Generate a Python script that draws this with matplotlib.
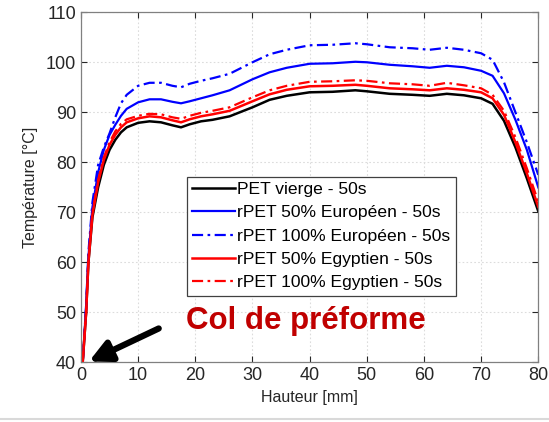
import numpy as np
import matplotlib
matplotlib.use('Agg')
import matplotlib.pyplot as plt
from matplotlib.lines import Line2D

plt.rcParams['font.family'] = ['Liberation Sans', 'DejaVu Sans']

# hauteur le long de la preforme [mm]
hauteur = [0.3, 0.9, 1.3, 2, 3, 4, 5, 6, 7, 8, 10, 12, 14, 16, 17.5, 19, 21, 23, 26,
           30, 33, 36, 40, 44, 48, 50, 54, 58, 61, 64, 67, 70, 72, 74, 76, 78, 80]

# temperatures [degC]
pet_vierge = [40, 50, 60, 69, 75, 79.5, 82.5, 84.5, 86, 87, 87.9, 88.2, 88, 87.4, 87, 87.6, 88.2, 88.5, 89.2,
              91, 92.5, 93.3, 94, 94.1, 94.4, 94.2, 93.7, 93.5, 93.3, 93.7, 93.4, 92.8, 91.7, 88.3, 83, 76.8, 70.2]
rpet50_eu = [40, 51, 61, 71, 78, 82.5, 85.5, 87.5, 89.3, 90.7, 92, 92.6, 92.6, 92.1, 91.8, 92.2, 92.8, 93.4, 94.4,
             96.6, 98, 98.9, 99.7, 99.8, 100.1, 100, 99.5, 99.2, 98.9, 99.3, 99, 98.3, 97.3, 93.8, 88.5, 82.5, 75]
rpet100_eu = [40, 51.5, 62, 72, 79.5, 83, 85.8, 89, 91.8, 93.5, 95.3, 95.9, 95.9, 95.3, 95, 95.7, 96.3, 96.8, 97.7,
              100, 101.6, 102.5, 103.4, 103.5, 103.8, 103.6, 103, 102.8, 102.5, 102.9, 102.5, 101.8, 100.5, 96, 90, 84, 77.5]
rpet50_eg = [40, 50, 60, 69.5, 76, 80.5, 83.5, 85.5, 87, 88, 88.8, 89.2, 89, 88.4, 88, 88.6, 89.2, 89.6, 90.3,
             92.2, 93.6, 94.5, 95.2, 95.3, 95.5, 95.3, 94.8, 94.6, 94.4, 94.8, 94.5, 94, 92.8, 89.5, 84, 77.8, 71.1]
rpet100_eg = [40, 50, 60.5, 70, 76.5, 81, 84, 86.2, 87.7, 88.6, 89.3, 89.7, 89.6, 89, 88.7, 89.3, 89.9, 90.3, 91,
              93, 94.4, 95.3, 96.1, 96.2, 96.4, 96.3, 95.8, 95.6, 95.3, 95.9, 95.4, 94.8, 93.5, 90.3, 85, 78.8, 72.1]

labels = ['PET vierge - 50s', 'rPET 50% Européen - 50s', 'rPET 100% Européen - 50s',
          'rPET 50% Egyptien - 50s', 'rPET 100% Egyptien - 50s']

dashdot = (0, (5, 2, 1.2, 2))

fig = plt.figure(figsize=(5.49, 4.22), dpi=100)
ax = fig.add_axes([0.1475, 0.141, 0.833, 0.830])

ax.plot(hauteur, pet_vierge, color='black', lw=1.8, label=labels[0])
ax.plot(hauteur, rpet50_eu, color='#0000ff', lw=1.6, label=labels[1])
ax.plot(hauteur, rpet100_eu, color='#0000ff', lw=1.6, ls=dashdot, label=labels[2])
ax.plot(hauteur, rpet50_eg, color='#ff0000', lw=1.8, label=labels[3])
ax.plot(hauteur, rpet100_eg, color='#ff0000', lw=1.6, ls=dashdot, label=labels[4])

ax.set_xlim(0, 80)
ax.set_ylim(40, 110)
ax.set_xticks(np.arange(0, 81, 10))
ax.set_yticks(np.arange(40, 111, 10))
ax.grid(True, color='#dcdcdc', ls=(0, (1.5, 2)), lw=0.8)
ax.tick_params(direction='in', top=True, right=True, labelsize=13, colors='#262626', length=4)
for s in ax.spines.values():
    s.set_color('#808080')
    s.set_linewidth(0.9)

ax.set_xlabel('Hauteur [mm]', fontsize=11.5, color='#262626', labelpad=4)
ax.set_ylabel('Température [°C]', fontsize=11.5, color='#262626', labelpad=6)

leg = ax.legend(loc='upper left', bbox_to_anchor=(0.231, 0.5305), borderaxespad=0,
                fontsize=12.6, handlelength=2.45, handletextpad=0.15, labelspacing=0.46,
                borderpad=0.3, fancybox=False, framealpha=1, edgecolor='#404040')
leg.get_frame().set_linewidth(0.9)

ax.annotate('', xy=(1.4, 40.2), xytext=(13.6, 46.8),
            arrowprops=dict(arrowstyle='-|>,head_length=1.3,head_width=0.65', color='black', lw=4.5,
                            shrinkA=0, shrinkB=0),
            annotation_clip=False)
ax.text(39.3, 48.2, 'Col de préforme', color='#c00000', fontsize=22.5, fontweight='bold',
        ha='center', va='center')

fig.add_artist(Line2D([0, 1], [0.006, 0.006], color='#d9d9d9', lw=1.5, transform=fig.transFigure))

fig.savefig('out.png', dpi=100)
